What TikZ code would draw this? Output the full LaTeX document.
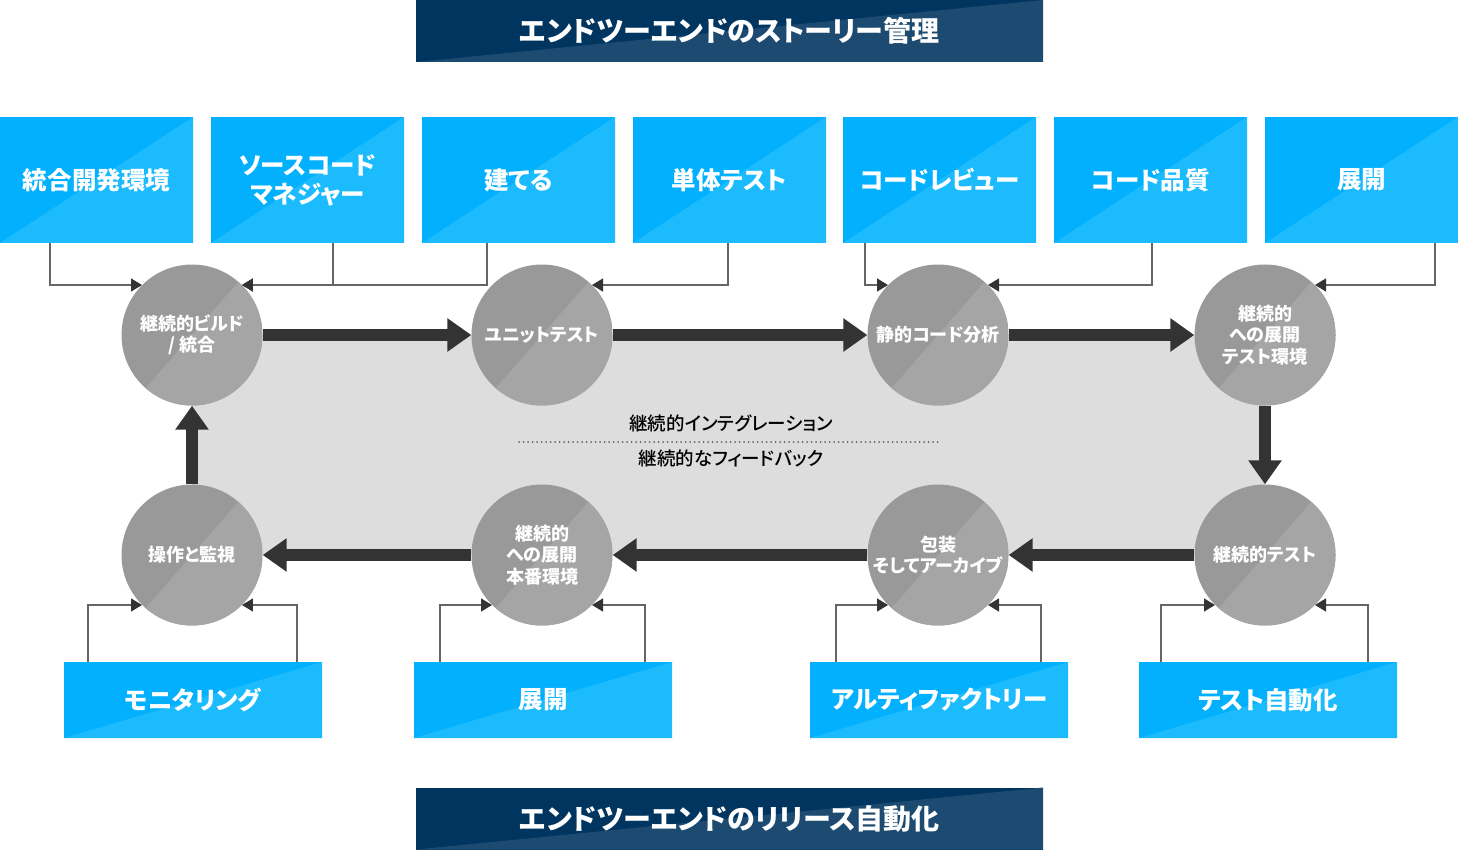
\documentclass[tikz,border=0pt]{standalone}
\usepackage{fontspec}
\setmainfont{Noto Sans CJK JP}[CharacterWidth=AlternateProportional]
\newfontfamily\midfont{Noto Sans CJK JP}[UprightFont=* Medium,CharacterWidth=AlternateProportional]
\usetikzlibrary{arrows.meta,positioning}
\definecolor{BarNavy}{HTML}{003560}
\definecolor{BarSteel}{HTML}{1C4A70}
\definecolor{BoxSky}{HTML}{03B0FD}
\definecolor{BoxSkyLite}{HTML}{1CBBFE}
\definecolor{StageGray}{HTML}{999999}
\definecolor{StageLite}{HTML}{A5A5A5}
\definecolor{LoopGray}{HTML}{DDDDDD}
\definecolor{FlowInk}{HTML}{333333}
\definecolor{FeedInk}{HTML}{666666}
\tikzset{
  halftone/.style={path picture={\fill[#1] (path picture bounding box.south west)
    -- (path picture bounding box.north east) -- (path picture bounding box.south east) -- cycle;}},
  titlebar/.style={fill=BarNavy,halftone=BarSteel,minimum width=627pt,minimum height=62pt,
    inner sep=0pt,text=white,font=\bfseries\fontsize{28}{32}\selectfont},
  topbox/.style={fill=BoxSky,halftone=BoxSkyLite,minimum width=193pt,minimum height=126pt,
    inner sep=0pt,text=white,align=center,font=\bfseries\fontsize{24.5}{29}\selectfont},
  botbox/.style={topbox,minimum width=258pt,minimum height=76pt},
  stage/.style={circle,fill=StageGray,minimum size=141pt,inner sep=0pt,text=white,align=center,
    font=\bfseries\fontsize{18}{21.5}\selectfont,
    path picture={\fill[StageLite] ([xshift=9pt]path picture bounding box.south west)
      -- ([xshift=-9pt]path picture bounding box.north east) -- (path picture bounding box.north east)
      -- (path picture bounding box.south east) -- cycle;}},
  flow/.style={draw=FlowInk,line width=12pt,-{Triangle[length=24pt,width=32pt]}},
  feed/.style={draw=FeedInk,line width=1.3pt,-{Triangle[length=11pt,width=13pt,color=FlowInk]}},
  looptext/.style={font=\midfont\fontsize{18.5}{20}\selectfont,text=black,inner sep=0pt}
}
\newcommand{\feedfrom}[3]{\draw[feed] ([xshift=#2]#1) |- (#3);}

\begin{document}
\begin{tikzpicture}[x=1pt,y=-1pt]
  \useasboundingbox (0,0) rectangle (1458,850);
  % continuous loop area
  \fill[LoopGray] (192,335) rectangle (1265,555);

  \node[titlebar] (story) at (729.5,31) {エンドツーエンドのストーリー管理};
  \node[titlebar] (release) at (729.5,818.5) {エンドツーエンドのリリース自動化};

  \node[topbox] (ide) at (96.5,180) {統合開発環境};
  \node[topbox] (scm) at (307.5,180) {ソースコード\\マネジャー};
  \node[topbox] (builder) at (518.5,180) {建てる};
  \node[topbox] (unittool) at (729.5,180) {単体テスト};
  \node[topbox] (review) at (939.5,180) {コードレビュー};
  \node[topbox] (quality) at (1150.5,180) {コード品質};
  \node[topbox] (deploytool) at (1361.5,180) {展開};

  \node[stage] (build) at (192,335) {継続的ビルド\\/ 統合};
  \node[stage] (unit) at (542,335) {ユニットテスト};
  \node[stage] (static) at (938,335) {静的コード分析};
  \node[stage] (staging) at (1265,335) {継続的\\への展開\\テスト環境};
  \node[stage] (ctest) at (1265,555) {継続的テスト};
  \node[stage] (pack) at (938,555) {包装\\そしてアーカイブ};
  \node[stage] (prod) at (542,555) {継続的\\への展開\\本番環境};
  \node[stage] (ops) at (192,555) {操作と監視};

  \node[botbox] (monitor) at (193,700) {モニタリング};
  \node[botbox] (deploy) at (543,700) {展開};
  \node[botbox] (artifact) at (939,700) {アルティファクトリー};
  \node[botbox] (autotest) at (1268,700) {テスト自動化};

  \draw[flow] (build) -- (unit);
  \draw[flow] (unit) -- (static);
  \draw[flow] (static) -- (staging);
  \draw[flow] (staging) -- (ctest);
  \draw[flow] (ctest) -- (pack);
  \draw[flow] (pack) -- (prod);
  \draw[flow] (prod) -- (ops);
  \draw[flow] (ops) -- (build);

  \node[looptext] (ci) at (731,423) {継続的インテグレーション};
  \node[looptext] (fb) at (731,458) {継続的なフィードバック};
  \coordinate (sepL) at (519,442);
  \coordinate (sepR) at (942,442);
  \draw[FeedInk,line width=2pt,line cap=round,dash pattern=on 0pt off 4.5pt] (sepL) -- (sepR);

  % tools feeding the stages
  \feedfrom{ide.south}{-46.5pt}{build.135}
  \feedfrom{scm.south}{25.5pt}{build.45}
  \feedfrom{builder.south}{-31.5pt}{build.45}
  \feedfrom{unittool.south}{-1.5pt}{unit.45}
  \feedfrom{review.south}{-74.5pt}{static.135}
  \feedfrom{quality.south}{1.5pt}{static.45}
  \feedfrom{deploytool.south}{73.5pt}{staging.45}

  \feedfrom{monitor.north}{-105pt}{ops.225}
  \feedfrom{monitor.north}{104pt}{ops.315}
  \feedfrom{deploy.north}{-103pt}{prod.225}
  \feedfrom{deploy.north}{102pt}{prod.315}
  \feedfrom{artifact.north}{-103pt}{pack.225}
  \feedfrom{artifact.north}{102pt}{pack.315}
  \feedfrom{autotest.north}{-107pt}{ctest.225}
  \feedfrom{autotest.north}{100pt}{ctest.315}
\end{tikzpicture}
\end{document}
